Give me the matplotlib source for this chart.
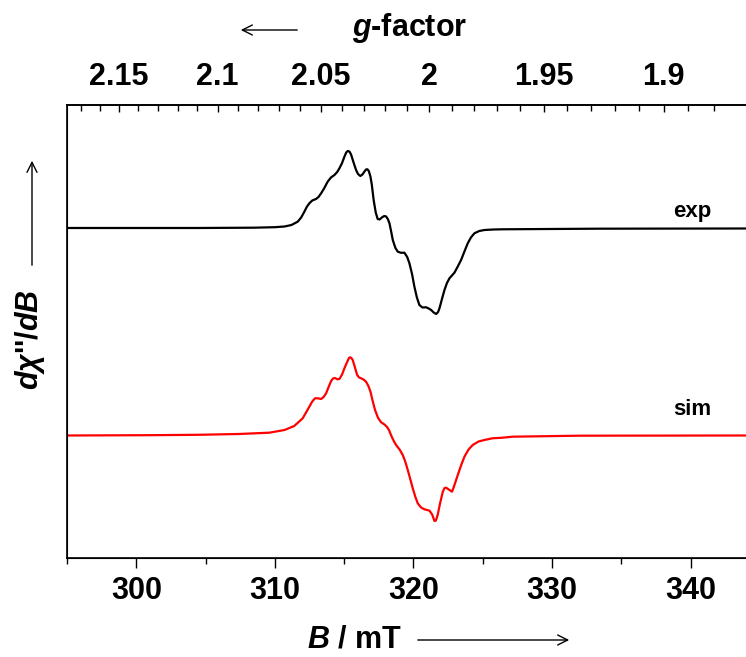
import matplotlib
matplotlib.use("Agg")
import matplotlib.pyplot as plt
from matplotlib.ticker import FixedLocator, MultipleLocator
import numpy as np

plt.rcParams['font.family'] = ['Liberation Sans', 'DejaVu Sans']
plt.rcParams['font.weight'] = 'bold'
plt.rcParams['mathtext.fontset'] = 'custom'
plt.rcParams['mathtext.it'] = 'Liberation Sans:italic:bold'
plt.rcParams['mathtext.rm'] = 'Liberation Sans:bold'

# microwave frequency (GHz), used for the g-factor axis
freq = 8.99

# experimental spectrum (B in mT, derivative intensity in a.u.)
B_exp = [295.0, 304.5, 308.5, 310.0, 310.7, 311.2, 311.65, 311.9, 312.13, 312.3,
         312.49, 312.7, 312.97, 313.15, 313.34, 313.55, 313.81, 314.05, 314.3, 314.5,
         314.66, 314.85, 315.02, 315.15, 315.26, 315.38, 315.5, 315.68, 315.86, 316.0,
         316.17, 316.32, 316.46, 316.58, 316.68, 316.78, 316.9, 317.0, 317.13, 317.28,
         317.42, 317.56, 317.74, 317.9, 318.03, 318.15, 318.27, 318.4, 318.51, 318.7,
         318.87, 319.1, 319.35, 319.55, 319.71, 319.9, 320.07, 320.25, 320.43, 320.65,
         320.92, 321.1, 321.28, 321.46, 321.64, 321.78, 321.88, 322.05, 322.24, 322.42,
         322.6, 322.78, 322.96, 323.2, 323.44, 323.68, 323.92, 324.15, 324.4, 324.75,
         325.13, 325.8, 326.45, 333.4, 344.0]
I_exp = [0, 0, 0.3, 0.8, 1.5, 3, 6.3, 10.5, 16.3, 21,
         24.7, 27.5, 29, 31, 34.7, 39.5, 46.3, 50.5, 53, 56,
         59.7, 65, 71.3, 75.5, 77, 76.5, 73.5, 65.5, 58, 54,
         52, 53.5, 56.3, 58.5, 58.7, 57, 51.3, 43, 28, 15.5,
         9, 8.5, 10.7, 12, 11.5, 9, 4.7, -4, -12, -20,
         -23.7, -24.8, -24.7, -29, -35.3, -46, -58.7, -69.5, -77, -79.5,
         -79.3, -80.5, -82, -84.5, -86, -84, -80.3, -71.5, -62, -55,
         -50.3, -47.5, -44.7, -38.5, -32, -23.5, -15.3, -9.5, -5.3, -3,
         -2, -1.5, -1.3, -0.7, -0.5]

# simulated spectrum
B_sim = [295.0, 300.9, 304.5, 307.4, 309.6, 310.7, 311.4, 312.01, 312.25, 312.49,
         312.7, 312.9, 313.1, 313.34, 313.52, 313.7, 313.88, 314.06, 314.2, 314.35,
         314.5, 314.66, 314.85, 315.02, 315.2, 315.35, 315.43, 315.52, 315.62, 315.78,
         315.94, 316.08, 316.22, 316.4, 316.58, 316.75, 316.9, 317.05, 317.23, 317.45,
         317.67, 317.91, 318.1, 318.25, 318.41, 318.58, 318.75, 319.0, 319.23, 319.42,
         319.59, 319.78, 319.95, 320.13, 320.31, 320.55, 320.79, 320.98, 321.16, 321.35,
         321.52, 321.62, 321.75, 321.92, 322.12, 322.25, 322.36, 322.55, 322.79, 323.0,
         323.2, 323.45, 323.68, 323.98, 324.28, 324.7, 325.13, 325.7, 326.45, 327.15,
         332.0, 344.0]
I_sim = [0, 0.3, 0.7, 1.5, 2.8, 5.5, 9.5, 17.2, 23, 28.8,
         34, 37.2, 37.2, 36.5, 38.5, 42.2, 48.5, 54.5, 57, 57.5,
         56.2, 56.5, 61, 67.2, 73, 77.5, 78.2, 77.5, 75.5, 68,
         60.5, 58, 57.2, 56, 53.8, 49.5, 43.8, 35, 25.5, 17.5,
         13.2, 11, 8.5, 5, -0.5, -5.5, -9.5, -14, -19.5, -26.5,
         -34.5, -44, -52.8, -61, -67.8, -72, -73.8, -74.5, -75.2, -79,
         -85.5, -85, -79.5, -68, -56.2, -52.5, -52.2, -54, -56.2, -48,
         -39.5, -29.5, -21.2, -14, -9.5, -6, -4.5, -2.8, -2.2, -1.2,
         -0.2, 0]

g_ticks = [2.15, 2.1, 2.05, 2.0, 1.95, 1.9]
g_labels = ['2.15', '2.1', '2.05', '2', '1.95', '1.9']
g_minor = np.round(np.arange(1.88, 2.18, 0.01), 2)


def g_to_B(g):
    # resonance field in mT for a given g at the spectrometer frequency
    return 71.4477 * freq / np.asarray(g, dtype=float)


fig = plt.figure(figsize=(7.46, 6.57), dpi=100)
ax = fig.add_axes([0.0898, 0.1507, 0.9102, 0.6895])

off_exp = 330
off_sim = 122.5
ax.plot(B_exp, np.array(I_exp) + off_exp, color='black', lw=1.6)
ax.plot(B_sim, np.array(I_sim) + off_sim, color='red', lw=1.6)

ax.set_xlim(295, 344)
ax.set_ylim(0, 453)
ax.set_yticks([])
ax.spines['right'].set_visible(False)
for s in ['left', 'bottom', 'top']:
    ax.spines[s].set_linewidth(1.2)

ax.xaxis.set_major_locator(MultipleLocator(10))
ax.xaxis.set_minor_locator(MultipleLocator(5))
ax.tick_params(axis='x', which='major', direction='out', length=7, width=1.0,
               labelsize=22, pad=6)
ax.tick_params(axis='x', which='minor', direction='out', length=4, width=1.0)

# top axis in g-factor
ax2 = ax.twiny()
ax2.set_xlim(ax.get_xlim())
ax2.spines['right'].set_visible(False)
ax2.spines['top'].set_linewidth(1.2)
ax2.set_xticks(g_to_B(g_ticks))
ax2.set_xticklabels(g_labels)
ax2.xaxis.set_minor_locator(FixedLocator(g_to_B(g_minor)))
ax2.tick_params(axis='x', which='major', direction='in', length=5, width=1.0,
                labelsize=22, pad=9)
ax2.tick_params(axis='x', which='minor', direction='in', length=4, width=1.0)
ax2.set_yticks([])

ax.text(340.1, 346, 'exp', fontsize=16, fontweight='bold', ha='center', va='center')
ax.text(340.1, 148, 'sim', fontsize=16, fontweight='bold', ha='center', va='center')

# axis titles with arrows (figure pixel coordinates converted to fractions)
W, H = 746.0, 657.0
arrow = dict(arrowstyle='->', lw=1.0, color='black', mutation_scale=18)
fig.text(410 / W, 1 - 28 / H, r'$g$-factor', fontsize=22, fontweight='bold',
         ha='center', va='center')
fig.add_artist(plt.Annotation('', xy=(238 / W, 1 - 30 / H), xytext=(300 / W, 1 - 30 / H),
                              xycoords='figure fraction', arrowprops=arrow))
fig.text(354 / W, 1 - 640 / H, r'$B$ / mT', fontsize=22, fontweight='bold',
         ha='center', va='center')
fig.add_artist(plt.Annotation('', xy=(572 / W, 1 - 640 / H), xytext=(415 / W, 1 - 640 / H),
                              xycoords='figure fraction', arrowprops=arrow))
fig.text(30 / W, 1 - 340 / H, r"$d\chi$''/$dB$", fontsize=22, fontweight='bold',
         rotation=90, ha='center', va='center')
fig.add_artist(plt.Annotation('', xy=(32 / W, 1 - 158 / H), xytext=(32 / W, 1 - 268 / H),
                              xycoords='figure fraction', arrowprops=arrow))

fig.savefig('out.png', dpi=100)
